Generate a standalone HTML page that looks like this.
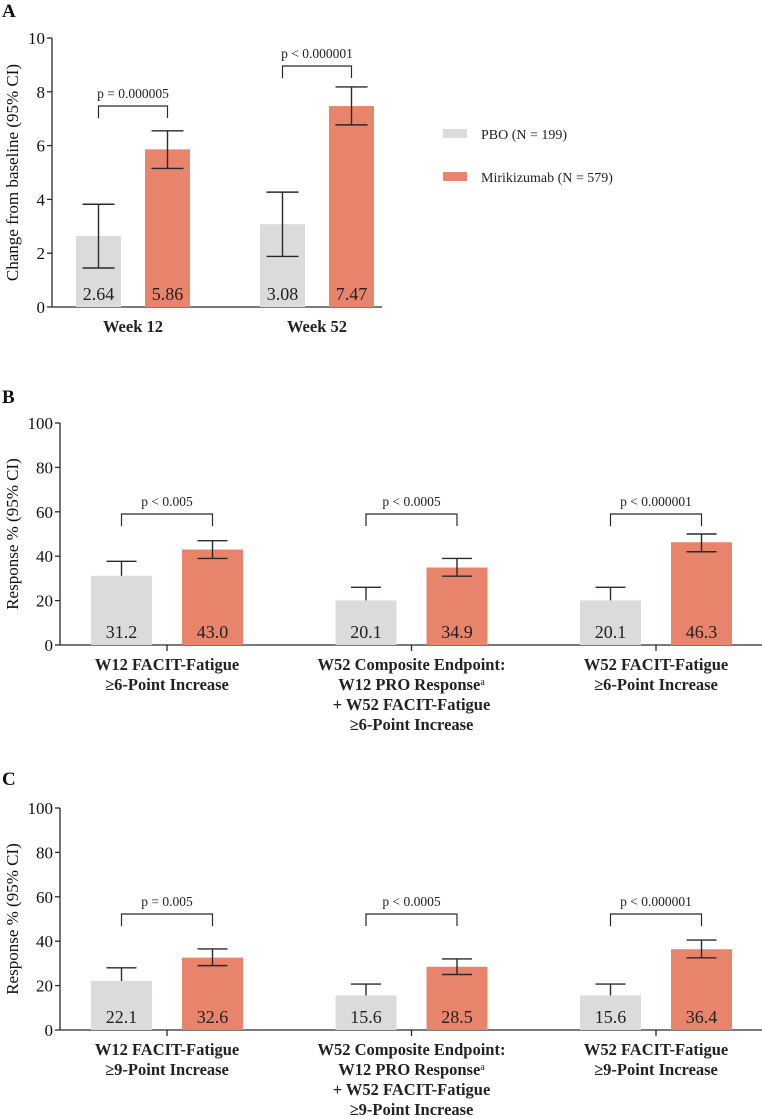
<!DOCTYPE html>
<html><head><meta charset="utf-8"><style>
html,body{margin:0;padding:0;background:#fff;}
svg{display:block;font-family:"Liberation Serif",serif;}
</style></head><body>
<svg id="s" width="762" height="1118" viewBox="0 0 762 1118"></svg>
<script>
// Panel A data
const aCats=["Week 12","Week 52"];
const aPbo=[2.64,3.08], aPboLo=[1.45,1.88], aPboHi=[3.82,4.27];
const aMir=[5.86,7.47], aMirLo=[5.15,6.77], aMirHi=[6.55,8.18];
const aP=["p = 0.000005","p < 0.000001"];
const aTicks=[0,2,4,6,8,10];
// Panel B data
const bCats=[["W12 FACIT-Fatigue","≥6-Point Increase"],["W52 Composite Endpoint:","W12 PRO Response|a","+ W52 FACIT-Fatigue","≥6-Point Increase"],["W52 FACIT-Fatigue","≥6-Point Increase"]];
const bPbo=[31.2,20.1,20.1], bPboHi=[37.7,26,26];
const bMir=[43.0,34.9,46.3], bMirLo=[39,31,42], bMirHi=[47,39,50];
const bP=["p < 0.005","p < 0.0005","p < 0.000001"];
// Panel C data
const cCats=[["W12 FACIT-Fatigue","≥9-Point Increase"],["W52 Composite Endpoint:","W12 PRO Response|a","+ W52 FACIT-Fatigue","≥9-Point Increase"],["W52 FACIT-Fatigue","≥9-Point Increase"]];
const cPbo=[22.1,15.6,15.6], cPboHi=[28,20.7,20.7];
const cMir=[32.6,28.5,36.4], cMirLo=[29,25,32.5], cMirHi=[36.5,32,40.5];
const cP=["p = 0.005","p < 0.0005","p < 0.000001"];
const pctTicks=[0,20,40,60,80,100];

const S=document.getElementById('s');
const NS="http://www.w3.org/2000/svg";
function mk(tag,at,name,txt){const e=document.createElementNS(NS,tag);for(const k in at)e.setAttribute(k,at[k]);


if(txt!==undefined)e.textContent=txt;S.appendChild(e);return e;}
const GRAY="#dcdbd9",ORG="#e8846b",INK="#2a2a2a";

function panel(o){
  const y=v=>o.y0-(v/o.max)*(o.y0-o.yTop);
  mk('text',{x:2,y:o.letterY,'font-size':19,'font-weight':'bold',fill:'#111'},'panel-label',o.letter);
  mk('line',{x1:o.ax,y1:o.yTop,x2:o.ax,y2:o.y0,stroke:INK,'stroke-width':1.3},'y-axis');
  mk('line',{x1:o.ax,y1:o.y0,x2:o.xEnd,y2:o.y0,stroke:INK,'stroke-width':1.3},'x-axis');
  o.ticks.forEach(t=>{
    mk('line',{x1:o.ax-5,y1:y(t),x2:o.ax,y2:y(t),stroke:INK,'stroke-width':1.3},'y-tick');
    mk('text',{x:o.ax-7,y:y(t)+6,'font-size':17,'text-anchor':'end',fill:'#111'},'y-tick-label',t);
  });
  const mid=(o.yTop+o.y0)/2;
  mk('text',{x:0,y:0,'font-size':17,'text-anchor':'middle',fill:'#111',transform:`translate(${o.titleX},${mid}) rotate(-90)`},'y-axis-title',o.title);
  o.cats.forEach((c,i)=>{
    const g=o.g0+i*o.gs;
    const px=g, mx=g+o.off;
    const cx=(px+mx+o.bw)/2;
    mk('rect',{x:px,y:y(o.pbo[i]),width:o.bw,height:o.y0-y(o.pbo[i]),fill:GRAY},'bar-pbo');
    mk('rect',{x:mx,y:y(o.mir[i]),width:o.bw,height:o.y0-y(o.mir[i]),fill:ORG},'bar-mirikizumab');
    const pc=px+o.bw/2, mc=mx+o.bw/2, cw=o.cap/2;
    const pl=o.pboLo?o.pboLo[i]:o.pbo[i];
    mk('line',{x1:pc,y1:y(pl),x2:pc,y2:y(o.pboHi[i]),stroke:INK,'stroke-width':1.4},'error-bar-pbo');
    mk('line',{x1:pc-cw,y1:y(o.pboHi[i]),x2:pc+cw,y2:y(o.pboHi[i]),stroke:INK,'stroke-width':1.4},'error-cap-pbo');
    if(o.pboLo)mk('line',{x1:pc-cw,y1:y(pl),x2:pc+cw,y2:y(pl),stroke:INK,'stroke-width':1.4},'error-cap-pbo');
    mk('line',{x1:mc,y1:y(o.mirLo[i]),x2:mc,y2:y(o.mirHi[i]),stroke:INK,'stroke-width':1.4},'error-bar-mirikizumab');
    mk('line',{x1:mc-cw,y1:y(o.mirHi[i]),x2:mc+cw,y2:y(o.mirHi[i]),stroke:INK,'stroke-width':1.4},'error-cap-mirikizumab');
    mk('line',{x1:mc-cw,y1:y(o.mirLo[i]),x2:mc+cw,y2:y(o.mirLo[i]),stroke:INK,'stroke-width':1.4},'error-cap-mirikizumab');
    const dec=o.dec;
    mk('text',{x:pc,y:o.y0-7,'font-size':18,'text-anchor':'middle',fill:'#222'},'value-label',o.pbo[i].toFixed(dec));
    mk('text',{x:mc,y:o.y0-7,'font-size':18,'text-anchor':'middle',fill:'#222'},'value-label',o.mir[i].toFixed(dec));
    const bt=o.brTop[i];
    const L=pc, R=mc;
    mk('path',{d:`M${L},${bt+12}V${bt}H${R}V${bt+12}`,fill:'none',stroke:INK,'stroke-width':1.2},'significance-bracket');
    mk('text',{x:(L+R)/2,y:bt-8,'font-size':13.5,'text-anchor':'middle',fill:'#222'},'p-value',o.p[i]);
    if(o.catTick) mk('line',{x1:cx,y1:o.y0,x2:cx,y2:o.y0+6,stroke:INK,'stroke-width':1.3},'x-tick');
    c.forEach((ln,j)=>{
      const t=mk('text',{x:cx,y:o.y0+o.catY+j*20,'font-size':16.5,'font-weight':'bold','text-anchor':'middle',fill:'#222'},'category-label');
      const parts=ln.split('|');
      t.textContent=parts[0];
      if(parts[1]){const ts=document.createElementNS(NS,'tspan');ts.setAttribute('font-size',10);ts.setAttribute('dy',-5);ts.setAttribute('font-weight','normal');ts.textContent=parts[1];t.appendChild(ts);}
    });
  });
}
panel({letter:"A",letterY:17,ax:52,yTop:38,y0:307,xEnd:382,max:10,ticks:aTicks,title:"Change from baseline (95% CI)",titleX:18,
 cats:aCats.map(c=>[c]),pbo:aPbo,pboLo:aPboLo,pboHi:aPboHi,mir:aMir,mirLo:aMirLo,mirHi:aMirHi,p:aP,
 g0:76,gs:184,off:69,bw:45,cap:32,dec:2,brTop:[106,66],catY:25,catTick:false});
panel({letter:"B",letterY:403,ax:60,yTop:423,y0:645,xEnd:762,max:100,ticks:pctTicks,title:"Response % (95% CI)",titleX:18,
 cats:bCats,pbo:bPbo,pboHi:bPboHi,mir:bMir,mirLo:bMirLo,mirHi:bMirHi,p:bP,
 g0:91,gs:244.5,off:91,bw:61,cap:30,dec:1,brTop:[514,514,514],catY:25,catTick:true});
panel({letter:"C",letterY:785,ax:60,yTop:808,y0:1030,xEnd:762,max:100,ticks:pctTicks,title:"Response % (95% CI)",titleX:18,
 cats:cCats,pbo:cPbo,pboHi:cPboHi,mir:cMir,mirLo:cMirLo,mirHi:cMirHi,p:cP,
 g0:91,gs:244.5,off:91,bw:61,cap:30,dec:1,brTop:[914,914,914],catY:25,catTick:true});
mk('rect',{x:443,y:129,width:24,height:9,fill:GRAY},'legend-swatch-pbo');
mk('text',{x:481,y:139,'font-size':14,fill:'#222'},'legend-label-pbo',"PBO (N = 199)");
mk('rect',{x:443,y:172,width:24,height:9,fill:ORG},'legend-swatch-mirikizumab');
mk('text',{x:481,y:182,'font-size':14,fill:'#222'},'legend-label-mirikizumab',"Mirikizumab (N = 579)");
</script>
</body></html>
